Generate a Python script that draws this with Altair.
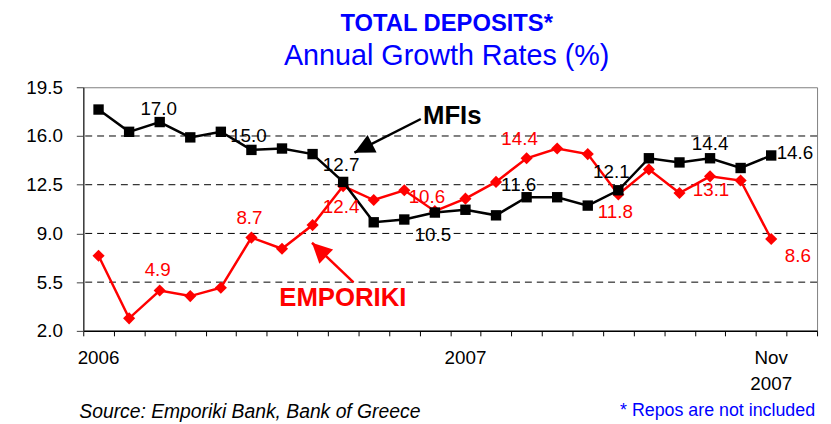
import altair as alt
import pandas as pd

# ---------------- data ----------------
# monthly observations, Jan 2006 .. Nov 2007 (24 monthly slots on the axis, last one empty)
months = list(range(23))
mfis = [17.9, 16.3, 17.0, 15.9, 16.3, 15.0, 15.1, 14.7, 12.7, 9.8, 10.0, 10.5,
        10.7, 10.3, 11.6, 11.6, 11.0, 12.1, 14.4, 14.1, 14.4, 13.7, 14.6]
emporiki = [7.4, 2.9, 4.9, 4.5, 5.1, 8.7, 7.9, 9.6, 12.4, 11.4, 12.1, 10.6,
            11.5, 12.7, 14.4, 15.1, 14.7, 11.8, 13.6, 11.9, 13.1, 12.8, 8.6]

label_idx = [2, 5, 8, 11, 14, 17, 20, 22]

y_ticks = [2.0, 5.5, 9.0, 12.5, 16.0, 19.5]
grid_vals = [5.5, 9.0, 12.5, 16.0]

xlab_month = [0, 12, 22]
xlab_text = ["2006", "2007", "Nov"]
xlab2_month = [22]
xlab2_text = ["2007"]

title_text = "TOTAL DEPOSITS*"
subtitle_text = "Annual Growth Rates (%)"
source_text = "Source: Emporiki Bank, Bank of Greece"
note_text = "* Repos are not included"

# annotation anchors (data coordinates)
ann_names = ["MFIs", "EMPORIKI"]
ann_x = [11.11, 6.41]
ann_y = [16.87, 3.78]
arrow_x = [11.04, 8.84]
arrow_y = [17.22, 5.49]
arrow_x2 = [8.87, 7.48]
arrow_y2 = [14.80, 8.33]
arrow_angle = [243, 314]

# ---------------- styling ----------------
W, H = 741, 246
FONT = "Liberation Sans"
BLACK = "#000000"
RED = "#FF0000"
BLUE = "#0000FF"

mfi_off = [(-1, -13), (-3, -14), (-2, -17), (-2, 23), (-8, -12), (-7, -18), (0, -14), (24, -2)]
emp_off = [(-2, -21), (-2, -20), (-2, 21), (-8, -14), (-7, -19), (-3, 18), (1, 14), (27, 17)]

xs = alt.Scale(domain=[0, 24], nice=False, zero=False)
ys = alt.Scale(domain=[2, 19.5], nice=False, zero=False)

mfi_df = pd.DataFrame({"x": [m + 0.5 for m in months], "v": mfis})
emp_df = pd.DataFrame({"x": [m + 0.5 for m in months], "v": emporiki})

x_axis = alt.Axis(values=list(range(25)), labels=False, tickSize=5, tickColor=BLACK,
                  domainColor=BLACK, domainWidth=1.5, grid=False, title=None, tickWidth=1)
y_axis = alt.Axis(values=y_ticks, format=".1f", labelFontSize=19, labelFont=FONT,
                  labelColor=BLACK, tickSize=7, labelPadding=14, domainColor="#404040",
                  tickColor="#404040", domainWidth=1.5, grid=False, title=None)


def X(field):
    return alt.X(field, scale=xs, axis=x_axis)


def Y(field):
    return alt.Y(field, scale=ys, axis=y_axis)


layers = []

# grid lines
grid = alt.Chart(pd.DataFrame({"g": grid_vals})).mark_rule(
    color=BLACK, strokeWidth=1, strokeDash=[7, 5]
).encode(y=Y("g:Q"))
layers.append(grid)

# EMPORIKI series
emp_line = alt.Chart(emp_df).mark_line(color=RED, strokeWidth=2.5).encode(x=X("x:Q"), y=Y("v:Q"))
emp_pts = alt.Chart(emp_df).mark_point(shape="diamond", filled=True, size=150,
                                       color=RED, opacity=1).encode(x=X("x:Q"), y=Y("v:Q"))
layers += [emp_line, emp_pts]

# MFIs series
mfi_line = alt.Chart(mfi_df).mark_line(color=BLACK, strokeWidth=2.5).encode(x=X("x:Q"), y=Y("v:Q"))
mfi_pts = alt.Chart(mfi_df).mark_point(shape="square", filled=True, size=110,
                                       color=BLACK, opacity=1).encode(x=X("x:Q"), y=Y("v:Q"))
layers += [mfi_line, mfi_pts]

# value labels
for idx, (dx, dy) in zip(label_idx, mfi_off):
    d = pd.DataFrame({"x": [idx + 0.5], "v": [mfis[idx]], "t": [f"{mfis[idx]:.1f}"]})
    layers.append(alt.Chart(d).mark_text(font=FONT, fontSize=19, color=BLACK, dx=dx, dy=dy,
                                         align="center", baseline="middle").encode(
        x=X("x:Q"), y=Y("v:Q"), text="t:N"))
for idx, (dx, dy) in zip(label_idx, emp_off):
    d = pd.DataFrame({"x": [idx + 0.5], "v": [emporiki[idx]], "t": [f"{emporiki[idx]:.1f}"]})
    layers.append(alt.Chart(d).mark_text(font=FONT, fontSize=19, color=RED, dx=dx, dy=dy,
                                         align="center", baseline="middle").encode(
        x=X("x:Q"), y=Y("v:Q"), text="t:N"))

# annotations: arrows + series names
ann_colors = [BLACK, RED]
head = "M0,0L0.5,1L-0.5,1Z"
for i in range(2):
    a = pd.DataFrame({"x": [arrow_x[i]], "y": [arrow_y[i]], "x2": [arrow_x2[i]], "y2": [arrow_y2[i]]})
    layers.append(alt.Chart(a).mark_rule(color=ann_colors[i], strokeWidth=2.5).encode(
        x=X("x:Q"), y=Y("y:Q"), x2="x2:Q", y2="y2:Q"))
    layers.append(alt.Chart(a).mark_point(shape=head, filled=True, size=1600, opacity=1,
                                          color=ann_colors[i], angle=arrow_angle[i]).encode(
        x=X("x2:Q"), y=Y("y2:Q")))
    t = pd.DataFrame({"x": [ann_x[i]], "y": [ann_y[i]], "t": [ann_names[i]]})
    layers.append(alt.Chart(t).mark_text(font=FONT, fontSize=26, fontWeight="bold",
                                         color=ann_colors[i], align="left",
                                         baseline="alphabetic").encode(
        x=X("x:Q"), y=Y("y:Q"), text="t:N"))

# x axis labels (centred on monthly slots)
xl = pd.DataFrame({"x": [m + 0.5 for m in xlab_month], "t": xlab_text})
layers.append(alt.Chart(xl).mark_text(font=FONT, fontSize=19, color=BLACK, align="center",
                                      baseline="alphabetic").encode(
    x=X("x:Q"), y=alt.value(H + 33), text="t:N"))
xl2 = pd.DataFrame({"x": [m + 0.5 for m in xlab2_month], "t": xlab2_text})
layers.append(alt.Chart(xl2).mark_text(font=FONT, fontSize=19, color=BLACK, align="center",
                                       baseline="alphabetic").encode(
    x=X("x:Q"), y=alt.value(H + 60), text="t:N"))


# titles and footer texts
def free_text(txt, x, y, **kw):
    return alt.Chart(pd.DataFrame({"t": [txt]})).mark_text(font=FONT, **kw).encode(
        x=alt.value(x), y=alt.value(y), text="t:N")


layers.append(free_text(title_text, 367, -57, fontSize=24, fontWeight="bold", color=BLUE,
                        align="center", baseline="alphabetic"))
layers.append(free_text(subtitle_text, 367, -22, fontSize=29, color=BLUE,
                        align="center", baseline="alphabetic"))
layers.append(free_text(source_text, -4, H + 88, fontSize=19.5, fontStyle="italic", color=BLACK,
                        align="left", baseline="alphabetic"))
layers.append(free_text(note_text, 739, H + 86, fontSize=18, color=BLUE,
                        align="right", baseline="alphabetic"))

chart = alt.layer(*layers).properties(
    width=W, height=H,
    padding={"left": 76, "top": 78, "right": 6, "bottom": 92},
    autosize=alt.AutoSizeParams(type="none"),
    background="white",
).configure_view(stroke="#808080", strokeWidth=1)

chart.save("out.html", embed_options={"renderer": "svg", "actions": False})
